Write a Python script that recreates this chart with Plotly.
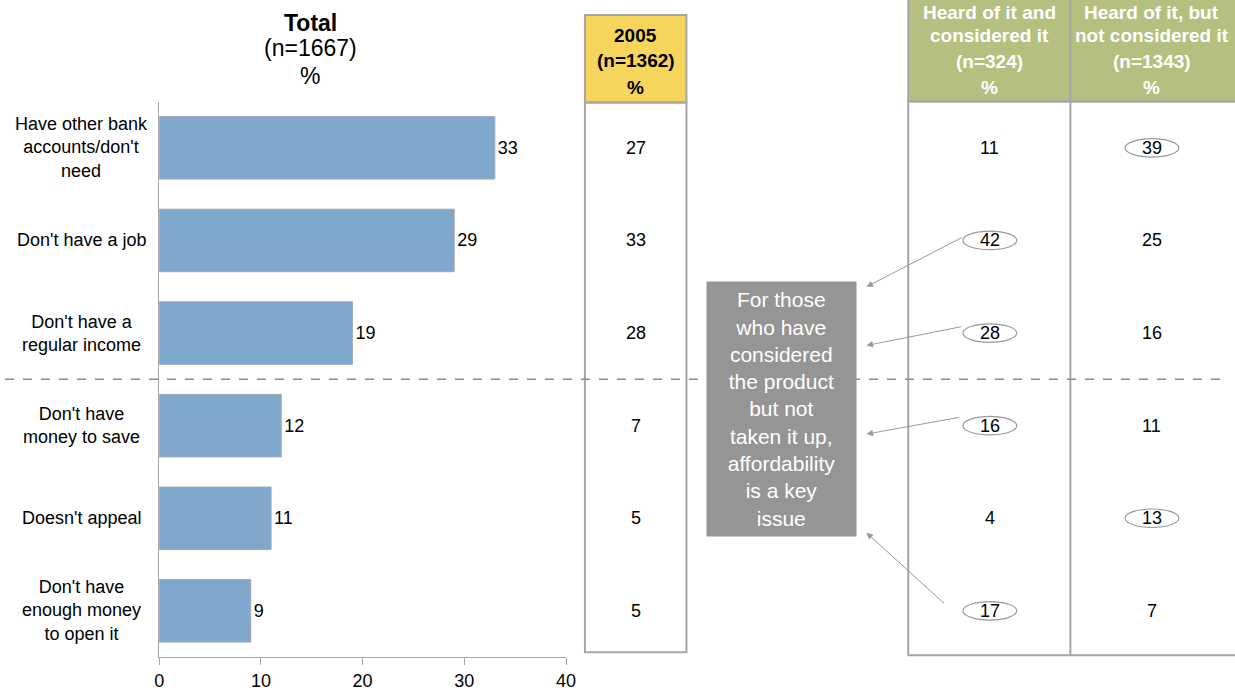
import plotly.graph_objects as go

W, H = 1235, 691

categories = ["Have other bank<br>accounts/don't<br>need", "Don't have a job", "Don't have a<br>regular income",
              "Don't have<br>money to save", "Doesn't appeal", "Don't have<br>enough money<br>to open it"]
total_values = [33, 29, 19, 12, 11, 9]
values_2005 = [27, 33, 28, 7, 5, 5]
considered_values = [11, 42, 28, 16, 4, 17]
not_considered_values = [39, 25, 16, 11, 13, 7]
considered_circled = [False, True, True, True, False, True]
not_considered_circled = [True, False, False, False, True, False]
x_ticks = [0, 10, 20, 30, 40]

FONT = "Liberation Sans, Arial, sans-serif"
GRAY = "#A6A6A6"
XS = 1.007  # small horizontal compensation

def px(x):
    return x * XS / W

def py(y):
    return 1 - y / H

fig = go.Figure()
fig.add_trace(go.Bar(
    x=total_values, y=list(range(len(categories))), orientation="h",
    marker=dict(color="#80A8CC", line=dict(color="#9AAAB9", width=1)),
    text=[str(v) for v in total_values], textposition="outside",
    textfont=dict(size=18, color="#000", family=FONT),
    cliponaxis=False, hoverinfo="skip", width=0.675,
))

annotations = []
shapes = []

def txt(x, y, text, size=18, color="#000", yref="paper"):
    return dict(x=x, y=y, xref="paper", yref=yref, text=text, showarrow=False,
                xanchor="center", yanchor="middle", align="center",
                font=dict(size=size, color=color, family=FONT))

# category labels (centered, multi-line)
for i, c in enumerate(categories):
    annotations.append(txt(px(77), i, c, 18, yref="y"))

# Total header
annotations.append(txt(px(307), py(23), "<b>Total</b>", 23))
annotations.append(txt(px(307), py(48), "(n=1667)", 23))
annotations.append(txt(px(307), py(76), "%", 23))

# 2005 column box
shapes.append(dict(type="rect", xref="paper", yref="paper", x0=px(583), x1=px(685), y0=py(103), y1=py(15),
                   fillcolor="#F5D55B", line=dict(color=GRAY, width=2), layer="below"))
shapes.append(dict(type="rect", xref="paper", yref="paper", x0=px(583), x1=px(685), y0=py(655), y1=py(103),
                   fillcolor="rgba(0,0,0,0)", line=dict(color=GRAY, width=2), layer="below"))
for t, yy in [("<b>2005</b>", 36), ("<b>(n=1362)</b>", 61), ("<b>%</b>", 88)]:
    annotations.append(txt(px(634), py(yy), t, 19))

# right table
shapes.append(dict(type="rect", xref="paper", yref="paper", x0=px(908), x1=px(1250), y0=py(102), y1=py(-2),
                   fillcolor="#B5BF80", line=dict(color=GRAY, width=2), layer="below"))
shapes.append(dict(type="rect", xref="paper", yref="paper", x0=px(908), x1=px(1250), y0=py(658), y1=py(102),
                   fillcolor="rgba(0,0,0,0)", line=dict(color=GRAY, width=2), layer="below"))
shapes.append(dict(type="line", xref="paper", yref="paper", x0=px(1071), x1=px(1071), y0=py(658), y1=py(0),
                   line=dict(color=GRAY, width=2), layer="below"))
for cx, lines in [(990, [("<b>Heard of it and</b>", 13), ("<b>considered it</b>", 36), ("<b>(n=324)</b>", 62), ("<b>%</b>", 88)]),
                  (1153, [("<b>Heard of it, but</b>", 13), ("<b>not considered it</b>", 36), ("<b>(n=1343)</b>", 62), ("<b>%</b>", 88)])]:
    for t, yy in lines:
        annotations.append(txt(px(cx), py(yy), t, 19, "#FFFFFF"))

# table values
for col_x, vals, circ in [(634, values_2005, None), (990, considered_values, considered_circled),
                          (1153, not_considered_values, not_considered_circled)]:
    for i, v in enumerate(vals):
        annotations.append(txt(px(col_x), i, str(v), 18, yref="y"))
        if circ is not None and circ[i]:
            shapes.append(dict(type="circle", xref="paper", yref="y", x0=px(col_x - 27), x1=px(col_x + 27),
                               y0=i - 0.1, y1=i + 0.1, line=dict(color="#999999", width=1.2)))

# dashed divider
shapes.append(dict(type="line", xref="paper", yref="y", x0=0, x1=1, y0=2.5, y1=2.5,
                   line=dict(color="#8C8C8C", width=1.5, dash="dash"), layer="below"))

# callout box
box = txt(px(781), py(411),
          "For those<br>who have<br>considered<br>the product<br>but not<br>taken it up,<br>affordability<br>is a key<br>issue",
          21, "#FFFFFF")
box.update(width=149, height=254, bgcolor="#959595", borderpad=0, valign="middle")
annotations.append(box)

# arrows
for hx, hy, ax, ay in [(866, 288, 97, -50), (866, 347, 96, -19), (866, 436, 94, -17), (866, 535, 79, 72)]:
    annotations.append(dict(x=px(hx), y=py(hy), xref="paper", yref="paper", text="", showarrow=True,
                            ax=ax, ay=ay, arrowhead=2, arrowsize=1.3, arrowwidth=1, arrowcolor="#999999"))

fig.update_layout(
    width=W, height=H, margin=dict(l=0, r=0, t=0, b=0),
    paper_bgcolor="white", plot_bgcolor="white", showlegend=False,
    font=dict(family=FONT, size=18, color="#000"),
    xaxis=dict(domain=[px(155), px(564)], range=[0, 40], tickvals=x_ticks, ticks="outside", ticklen=7,
               tickcolor=GRAY, showline=True, linecolor=GRAY, linewidth=1, showgrid=False, zeroline=False,
               tickfont=dict(size=18, family=FONT, color="#000"), fixedrange=True),
    yaxis=dict(domain=[py(660), py(102)], range=[5.5, -0.5], showticklabels=False, showline=True,
               linecolor=GRAY, linewidth=1, showgrid=False, zeroline=False, ticks="", fixedrange=True),
    annotations=annotations, shapes=shapes, bargap=0.32,
)

fig.write_html("out.html", config={"displayModeBar": False},
               post_script="document.body.style.margin='0';document.body.style.overflow='hidden';")
